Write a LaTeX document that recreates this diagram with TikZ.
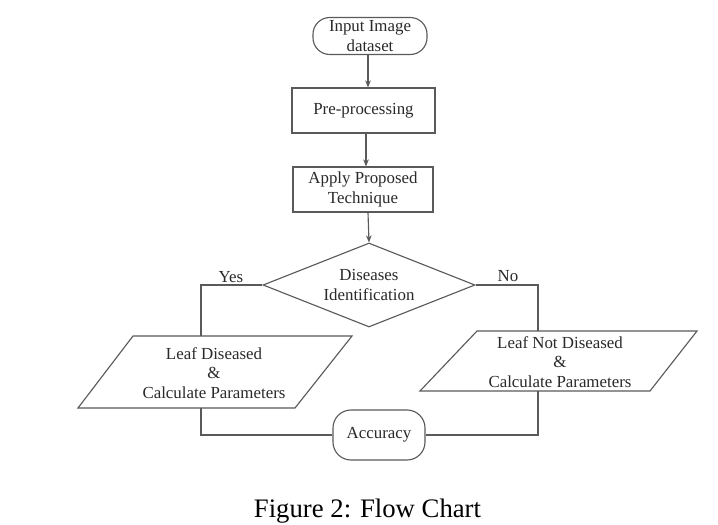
\documentclass[tikz,border=0pt]{standalone}
\usepackage{fontspec}
\setmainfont{Liberation Serif}
\usetikzlibrary{shapes.geometric,arrows.meta}
\definecolor{linec}{HTML}{5A5A5A}
\definecolor{textc}{HTML}{2A2A2A}
\tikzset{
  base/.style={draw=linec, line width=0.8pt, text=textc, font=\fontsize{12}{14}\selectfont, align=center, inner sep=0pt},
  terminal/.style={base, rectangle, rounded corners=0.42cm},
  procbox/.style={base, rectangle},
  decision/.style={base, diamond, aspect=2.5},
  plain/.style={text=textc, font=\fontsize{12}{14}\selectfont, align=center, inner sep=0pt},
  conn/.style={draw=linec, line width=0.8pt},
  flow/.style={conn, -{Stealth[length=5pt,width=4pt]}},
  para/.style={draw=linec, line width=0.8pt}
}
\begin{document}
\begin{tikzpicture}[x=0.025cm,y=-0.025cm]
\useasboundingbox (0,0) rectangle (718,525);
\fill[white] (0,0) rectangle (718,525);

\node[terminal, minimum width=2.85cm, minimum height=0.925cm] (inp) at (370,36) {Input Image\\dataset};
\node[procbox, minimum width=3.575cm, minimum height=1.125cm] (pre) at (363.5,110.5) {Pre-processing};
\node[procbox, minimum width=3.5cm, minimum height=1.125cm] (app) at (363,189.5) {Apply Proposed\\Technique};
\node[decision, minimum width=5.3cm, minimum height=2.1cm] (dia) at (369,285) {Diseases\\Identification};

% left parallelogram
\coordinate (l1) at (78,408);
\coordinate (l2) at (295,408);
\coordinate (l3) at (352,336);
\coordinate (l4) at (133,336);
\draw[para] (l1) -- (l2) -- (l3) -- (l4) -- cycle;
\node[plain] (ld) at (214,373) {Leaf Diseased\\\&\\Calculate Parameters};

% right parallelogram
\coordinate (r1) at (420,391);
\coordinate (r2) at (650,391);
\coordinate (r3) at (697,331);
\coordinate (r4) at (477,331);
\draw[para] (r1) -- (r2) -- (r3) -- (r4) -- cycle;
\node[plain] (rd) at (560,362) {Leaf Not Diseased\\\&\\Calculate Parameters};

\node[terminal, minimum width=2.3cm, minimum height=1.25cm, rounded corners=0.45cm] (acc) at (379,435) {Accuracy};

\coordinate (ldtop) at (201,336);
\coordinate (ldbot) at (201,408);
\coordinate (rdtop) at (538,331);
\coordinate (rdbot) at (538,391);

\draw[flow] (inp.south -| 368,0) -- (pre.north -| 368,0);
\draw[flow] (pre.south -| 366,0) -- (app.north -| 366,0);
\draw[flow] (app.south -| 368,0) -- (dia.north);

\draw[conn] (dia.west) -| (ldtop);
\draw[conn] (dia.east) -| (rdtop);
\draw[conn] (ldbot) |- (acc.west);
\draw[conn] (rdbot) |- (acc.east);

\node[plain] (yes) at (231,277) {Yes};
\node[plain] (no) at (508,276) {No};

\node[text=black, font=\fontsize{19}{22}\selectfont, anchor=base, inner sep=0pt] (cap) at (367.5,517) {Figure 2: Flow Chart};
\end{tikzpicture}
\end{document}
